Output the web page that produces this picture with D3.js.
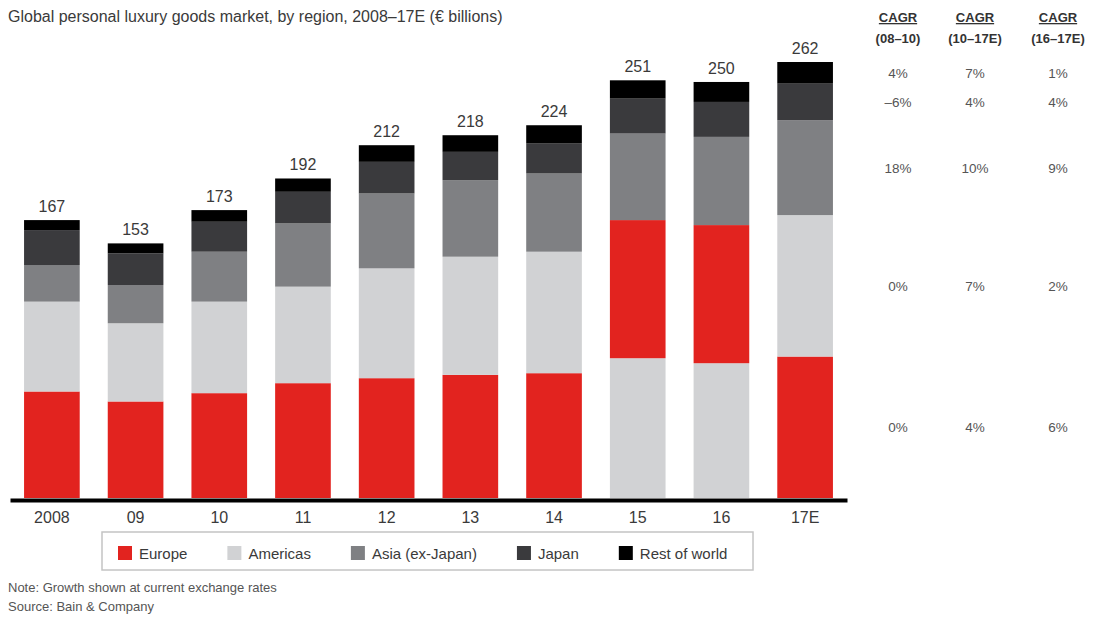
<!DOCTYPE html>
<html><head><meta charset="utf-8">
<script src="https://cdn.jsdelivr.net/npm/d3@7"></script>
<style>body{margin:0;background:#fff} svg{display:block}</style>
</head><body><svg id="c" width="1094" height="619"></svg>
<script>
// ---- data ----
const years = ["2008","09","10","11","12","13","14","15","16","17E"];
const totals = [167,153,173,192,212,218,224,251,250,262];
const europe = [64,58,63,69,72,74,75,83,83,85];
const americas = [54,47,55,58,66,71,73,84,81,85];
const asia = [22,23,30,38,45,46,47,52,53,57];
const japan = [21,19,18,19,19,17,18,21,21,22];
const restOfWorld = [6,6,7,8,10,10,11,11,12,13];
const seriesNames = ["Europe","Americas","Asia (ex-Japan)","Japan","Rest of world"];
const seriesColors = ["#e2231f","#d1d2d4","#7f8083","#3a3a3d","#000000"];
const americasBelowEuropeYears = ["15","16"];
const cagrPeriods = ["(08–10)","(10–17E)","(16–17E)"];
const cagrEurope = ["0%","4%","6%"];
const cagrAmericas = ["0%","7%","2%"];
const cagrAsia = ["18%","10%","9%"];
const cagrJapan = ["–6%","4%","4%"];
const cagrRestOfWorld = ["4%","7%","1%"];
const titleText = "Global personal luxury goods market, by region, 2008–17E (€ billions)";
const noteText = "Note: Growth shown at current exchange rates";
const sourceText = "Source: Bain & Company";

// ---- chart ----
const FONT = "'Liberation Sans', Arial, sans-serif";
const svg = d3.select("#c");
const seriesValues = [europe, americas, asia, japan, restOfWorld];
const cagrRows = [cagrEurope, cagrAmericas, cagrAsia, cagrJapan, cagrRestOfWorld];

const x = d3.scaleBand().domain(years).range([10, 847]).paddingInner(0.335).paddingOuter(0.168);
const y = d3.scaleLinear().domain([0, 262]).range([498, 62]);

// Build stacked segments
const segments = [];
years.forEach((yr, i) => {
  let order = [0,1,2,3,4];
  if (americasBelowEuropeYears.includes(yr)) order = [1,0,2,3,4];
  let acc = 0;
  order.forEach(s => {
    const v = seriesValues[s][i];
    segments.push({year: yr, series: s, y0: acc, y1: acc + v, idx: i});
    acc += v;
  });
});

svg.append("g").selectAll("rect").data(segments).join("rect")
  .attr("x", d => x(d.year))
  .attr("width", x.bandwidth())
  .attr("y", d => y(d.y1))
  .attr("height", d => y(d.y0) - y(d.y1))
  .attr("fill", d => seriesColors[d.series]);

// totals
svg.append("g").selectAll("text").data(years).join("text")
  .attr("x", d => x(d) + x.bandwidth()/2)
  .attr("y", (d,i) => y(totals[i]) - 8)
  .attr("text-anchor", "middle")
  .attr("font-family", FONT).attr("font-size", 16).attr("fill", "#3a3a3a")
  .text((d,i) => totals[i]);

// axis
const xAxis = svg.append("g").attr("transform", "translate(0,500)")
  .call(d3.axisBottom(x).tickSize(0).tickSizeOuter(0));
xAxis.select(".domain").attr("stroke", "#000").attr("stroke-width", 4);
xAxis.selectAll("text").attr("font-family", FONT).attr("font-size", 16)
  .attr("fill", "#3a3a3a").attr("dy", "0").attr("y", 23);

// title
svg.append("text").attr("x", 8).attr("y", 22).attr("font-family", FONT)
  .attr("font-size", 16).attr("fill", "#3a3a3a").text(titleText);

// CAGR table
const colX = [898, 975, 1058];
const lastIdx = years.length - 1;
const rowY = seriesValues.map((arr, s) => {
  const seg = segments.find(d => d.idx === lastIdx && d.series === s);
  return y((seg.y0 + seg.y1) / 2);
});
const head = svg.append("g");
colX.forEach((cx, c) => {
  head.append("text").attr("x", cx).attr("y", 22).attr("text-anchor", "middle")
    .attr("font-family", FONT).attr("font-size", 13).attr("font-weight", "bold")
    .attr("fill", "#333").attr("text-decoration", "underline").text("CAGR");
  head.append("text").attr("x", cx).attr("y", 43).attr("text-anchor", "middle")
    .attr("font-family", FONT).attr("font-size", 13).attr("font-weight", "bold")
    .attr("fill", "#333").text(cagrPeriods[c]);
});
cagrRows.forEach((row, s) => {
  row.forEach((v, c) => {
    svg.append("text").attr("x", colX[c]).attr("y", rowY[s] + 5)
      .attr("text-anchor", "middle").attr("font-family", FONT).attr("font-size", 13.5)
      .attr("fill", "#555").text(v);
  });
});

// legend
const lg = svg.append("g");
lg.append("rect").attr("x", 102).attr("y", 532).attr("width", 651).attr("height", 38)
  .attr("fill", "#fff").attr("stroke", "#c4c4c4").attr("stroke-width", 1.5);
let lx = 118;
seriesNames.forEach((name, s) => {
  lg.append("rect").attr("x", lx).attr("y", 546).attr("width", 14).attr("height", 14)
    .attr("fill", seriesColors[s]);
  const t = lg.append("text").attr("x", lx + 21).attr("y", 558.5)
    .attr("font-family", FONT).attr("font-size", 15).attr("fill", "#3a3a3a").text(name);
  lx += 21 + t.node().getComputedTextLength() + 40;
});

// notes
svg.append("text").attr("x", 8).attr("y", 592).attr("font-family", FONT)
  .attr("font-size", 13).attr("fill", "#555").text(noteText);
svg.append("text").attr("x", 8).attr("y", 611).attr("font-family", FONT)
  .attr("font-size", 13).attr("fill", "#555").text(sourceText);
</script>
</body></html>
